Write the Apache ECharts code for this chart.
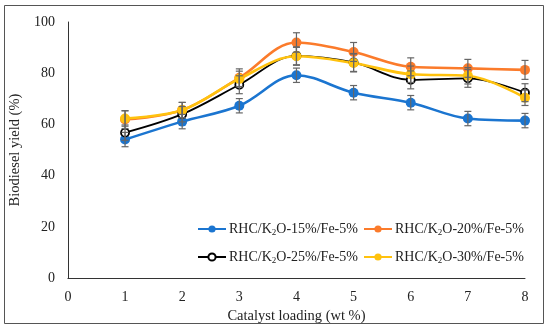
<!DOCTYPE html>
<html>
<head>
<meta charset="utf-8">
<script src="https://cdn.jsdelivr.net/npm/echarts@6/dist/echarts.min.js"></script>
<style>html,body{margin:0;padding:0;background:#fff}#c{width:550px;height:329px}</style>
</head>
<body>
<div id="c"></div>
<script>
var xValues = [1, 2, 3, 4, 5, 6, 7, 8];
var seriesNames = ['RHC/K2O-15%/Fe-5%', 'RHC/K2O-20%/Fe-5%', 'RHC/K2O-25%/Fe-5%', 'RHC/K2O-30%/Fe-5%'];
var yield15 = [54.1, 61.1, 67.3, 79.2, 72.4, 68.5, 62.3, 61.5];
var yield20 = [61.9, 65.6, 78.2, 92.0, 88.3, 82.5, 81.9, 81.3];
var yield25 = [56.8, 64.0, 75.5, 86.8, 84.2, 77.4, 78.0, 72.4];
var yield30 = [62.3, 65.6, 77.8, 86.6, 84.0, 79.6, 79.0, 70.4];
var err15 = [2.8, 2.8, 2.8, 2.8, 2.8, 2.8, 2.8, 2.8];
var err20 = [3.5, 3.0, 3.5, 3.8, 3.7, 3.5, 3.5, 3.7];
var err25 = [3.0, 3.0, 3.5, 3.5, 3.5, 3.5, 3.5, 3.5];
var err30 = [3.0, 3.0, 3.0, 3.5, 3.5, 3.2, 3.2, 3.0];
var xTicks = [0, 1, 2, 3, 4, 5, 6, 7, 8];
var yTicks = [0, 20, 40, 60, 80, 100];

var colors = ['#1B75D0', '#FB7B2B', '#000000', '#FFC20E'];
var FONT = 'Liberation Serif';

function pairs(ys) { return xValues.map(function (x, i) { return [x, ys[i]]; }); }
function errData(ys, es) { return xValues.map(function (x, i) { return [x, ys[i] - es[i], ys[i] + es[i]]; }); }

function errSeries(ys, es) {
  return {
    type: 'custom', silent: true, z: 5,
    data: errData(ys, es),
    renderItem: function (params, api) {
      var x = api.value(0);
      var lo = api.coord([x, api.value(1)]);
      var hi = api.coord([x, api.value(2)]);
      var w = 3.5;
      var st = { stroke: '#666', lineWidth: 1.2, fill: null };
      return {
        type: 'group', children: [
          { type: 'line', shape: { x1: lo[0], y1: lo[1], x2: hi[0], y2: hi[1] }, style: st },
          { type: 'line', shape: { x1: lo[0] - w, y1: lo[1], x2: lo[0] + w, y2: lo[1] }, style: st },
          { type: 'line', shape: { x1: hi[0] - w, y1: hi[1], x2: hi[0] + w, y2: hi[1] }, style: st }
        ]
      };
    }
  };
}

function lineSeries(name, ys, color, isOpen) {
  return {
    name: name, type: 'line', data: pairs(ys), smooth: 0.35,
    symbol: 'circle', symbolSize: isOpen ? 8 : 10,
    lineStyle: { color: color, width: isOpen ? 1.8 : 2.6 },
    itemStyle: isOpen ? { color: '#fff', borderColor: '#000', borderWidth: 1.8 } : { color: color },
    z: 3
  };
}

var richText = {
  a: { fontFamily: FONT, fontSize: 14, color: '#222' },
  s: { fontFamily: FONT, fontSize: 9, color: '#222', padding: [7, 0, 0, 0] }
};
function fmt(n) {
  var parts = n.split('K2O');
  return '{a|' + parts[0] + 'K}{s|2}{a|O' + parts[1] + '}';
}
function legendAt(name, left, top) {
  return {
    data: [name], left: left, top: top, itemWidth: 28, itemHeight: 9, itemGap: 0,
    formatter: fmt, textStyle: { rich: richText, padding: [0, 0, 0, -2] }
  };
}

var chart = echarts.init(document.getElementById('c'));
chart.setOption({
  animation: false,
  backgroundColor: '#fff',
  graphic: [{
    type: 'rect', shape: { x: 4.5, y: 5.5, width: 539, height: 318 },
    style: { fill: null, stroke: '#555', lineWidth: 1 }, silent: true
  }],
  grid: { left: 58, right: 25, top: 22, bottom: 50 },
  xAxis: {
    type: 'value', min: 0, max: 8, interval: 1,
    name: 'Catalyst loading (wt %)', nameLocation: 'middle', nameGap: 24,
    nameTextStyle: { fontFamily: FONT, fontSize: 14.5, color: '#222' },
    axisLine: { lineStyle: { color: '#333', width: 1 } },
    axisTick: { show: false }, splitLine: { show: false },
    axisLabel: { fontFamily: FONT, fontSize: 14, color: '#222', margin: 12,
      formatter: function (v) { return xTicks.indexOf(v) >= 0 ? String(v) : ''; } }
  },
  yAxis: {
    type: 'value', min: 0, max: 100, interval: 20,
    name: 'Biodiesel yield (%)', nameLocation: 'middle', nameGap: 32, nameRotate: 90,
    nameTextStyle: { fontFamily: FONT, fontSize: 14.5, color: '#222' },
    axisLine: { show: true, lineStyle: { color: '#333', width: 1 } },
    axisTick: { show: false }, splitLine: { show: false },
    axisLabel: { fontFamily: FONT, fontSize: 14, color: '#222', margin: 13,
      formatter: function (v) { return yTicks.indexOf(v) >= 0 ? String(v) : ''; } }
  },
  legend: [
    legendAt(seriesNames[0], 192, 217),
    legendAt(seriesNames[1], 358, 217),
    legendAt(seriesNames[2], 192, 245),
    legendAt(seriesNames[3], 358, 245)
  ],
  series: [
    lineSeries(seriesNames[0], yield15, colors[0], false),
    lineSeries(seriesNames[1], yield20, colors[1], false),
    lineSeries(seriesNames[2], yield25, colors[2], true),
    lineSeries(seriesNames[3], yield30, colors[3], false),
    errSeries(yield15, err15),
    errSeries(yield20, err20),
    errSeries(yield25, err25),
    errSeries(yield30, err30)
  ]
});
</script>
</body>
</html>
